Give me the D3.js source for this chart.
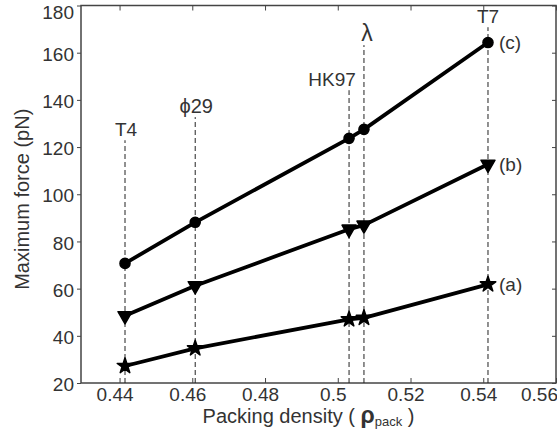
<!DOCTYPE html>
<html>
<head>
<meta charset="utf-8">
<script src="https://cdn.jsdelivr.net/npm/d3@7"></script>
<style>
  html, body { margin: 0; padding: 0; background: #fff; }
  svg { display: block; }
  text { font-family: "Liberation Sans", Arial, sans-serif; fill: #333; }
</style>
</head>
<body>
<svg id="chart" width="557" height="439"></svg>
<script>
// ---- data ----
const viruses   = ["T4", "\u03D529", "HK97", "\u03BB", "T7"];
const packing   = [0.4415, 0.4608, 0.5031, 0.5072, 0.5413];
const forceA    = [27.2, 34.7, 47.0, 47.6, 61.8];
const forceB    = [48.5, 61.2, 85.2, 86.9, 112.7];
const forceC    = [70.7, 88.1, 123.7, 127.5, 164.3];
const seriesNames = ["(a)", "(b)", "(c)"];
const labelTop  = [122.9, 132.7, 144.1, 163.2, 170.8]; // top of the dashed guides (force units)
const xTicks    = [0.44, 0.46, 0.48, 0.5, 0.52, 0.54, 0.56];
const yTicks    = [20, 40, 60, 80, 100, 120, 140, 160, 180];

// ---- layout ----
const svg = d3.select("#chart");
const L = 81, R = 556, T = 5.5, B = 383;
const x = d3.scaleLinear().domain([0.4294, 0.56]).range([L, R]);
const y = d3.scaleLinear().domain([20, 180]).range([B, T]);
const FS = 19;

// frame
svg.append("rect").attr("x", L).attr("y", T).attr("width", R - L).attr("height", B - T)
  .attr("fill", "none").attr("stroke", "#444").attr("stroke-width", 1.5);

// bottom axis (ticks inside)
const xAxis = svg.append("g").attr("transform", `translate(0,${B})`)
  .call(d3.axisBottom(x).tickValues(xTicks).tickSize(-5).tickPadding(5)
    .tickFormat(d => d3.format("")(+d.toFixed(2))));
xAxis.select(".domain").remove();
xAxis.selectAll(".tick line").attr("stroke", "#444");
xAxis.selectAll(".tick text").attr("font-size", FS).style("fill", "#333")
  .attr("font-family", "Liberation Sans, Arial, sans-serif")
  .attr("dx", (d, i) => i === xTicks.length - 1 ? -17 : -5);

// top ticks
svg.append("g").attr("transform", `translate(0,${T})`)
  .call(d3.axisTop(x).tickValues(xTicks).tickSize(-5).tickFormat(""))
  .call(g => { g.select(".domain").remove(); g.selectAll("line").attr("stroke", "#444"); });

// left axis
const yAxis = svg.append("g").attr("transform", `translate(${L},0)`)
  .call(d3.axisLeft(y).tickValues(yTicks).tickSize(4).tickPadding(3));
yAxis.select(".domain").remove();
yAxis.selectAll(".tick line").attr("stroke", "#444");
yAxis.selectAll(".tick text").attr("font-size", FS).style("fill", "#333")
  .attr("font-family", "Liberation Sans, Arial, sans-serif")
  .attr("dy", d => d === 180 ? "0.7em" : "0.4em");

// right ticks
svg.append("g").attr("transform", `translate(${R},0)`)
  .call(d3.axisRight(y).tickValues(yTicks).tickSize(-4).tickFormat(""))
  .call(g => { g.select(".domain").remove(); g.selectAll("line").attr("stroke", "#444"); });

// dashed guides
svg.append("g").selectAll("line").data(packing).join("line")
  .attr("x1", d => x(d)).attr("x2", d => x(d))
  .attr("y1", B).attr("y2", (d, i) => y(labelTop[i]))
  .attr("stroke", "#222").attr("stroke-width", 1).attr("stroke-dasharray", "5,3");

// guide labels
const labelDx = [1, 1, -17, 3, 0];
svg.append("g").selectAll("text").data(viruses).join("text")
  .attr("x", (d, i) => x(packing[i]) + labelDx[i])
  .attr("y", (d, i) => y(labelTop[i]) - 4)
  .attr("text-anchor", "middle")
  .attr("font-size", (d, i) => i === 3 ? 23 : (i === 1 ? 20 : FS))
  .attr("font-family", (d, i) => i === 3 ? "DejaVu Sans, sans-serif" : null)
  .text(d => d);

// series
const series = [forceA, forceB, forceC];
const symbols = [d3.symbolStar, d3.symbolTriangle, d3.symbolCircle];
const symSize = [75, 85, 80];
const line = d3.line().x((d, i) => x(packing[i])).y(d => y(d));

series.forEach((s, k) => {
  svg.append("path").datum(s).attr("d", line)
    .attr("fill", "none").attr("stroke", "#000").attr("stroke-width", 3.8)
    .attr("stroke-linejoin", "round");
  svg.append("g").selectAll("path").data(s).join("path")
    .attr("d", d3.symbol().type(symbols[k]).size(symSize[k]))
    .attr("transform", (d, i) => `translate(${x(packing[i])},${y(d)})` + (k === 1 ? " rotate(180)" : ""))
    .attr("fill", "#000").attr("stroke", "#000").attr("stroke-width", 1.5)
    .attr("stroke-linejoin", "round");
  svg.append("text")
    .attr("x", x(packing[packing.length - 1]) + 11)
    .attr("y", y(s[s.length - 1]))
    .attr("dy", "0.35em")
    .attr("font-size", FS)
    .text(seriesNames[k]);
});

// axis titles
const xt = svg.append("text").attr("x", (L + R) / 2 - 10).attr("y", 423)
  .attr("text-anchor", "middle").attr("font-size", 20);
xt.append("tspan").text("Packing density ( ");
xt.append("tspan").attr("font-size", 23).attr("font-weight", "bold").text("\u03C1");
xt.append("tspan").attr("font-size", 13).attr("dy", 3).text("pack");
xt.append("tspan").attr("dy", -3).text(" )");

svg.append("text").attr("transform", `translate(29,${(T + B) / 2 + 5}) rotate(-90)`)
  .attr("text-anchor", "middle").attr("font-size", 20)
  .text("Maximum force (pN)");
</script>
</body>
</html>
